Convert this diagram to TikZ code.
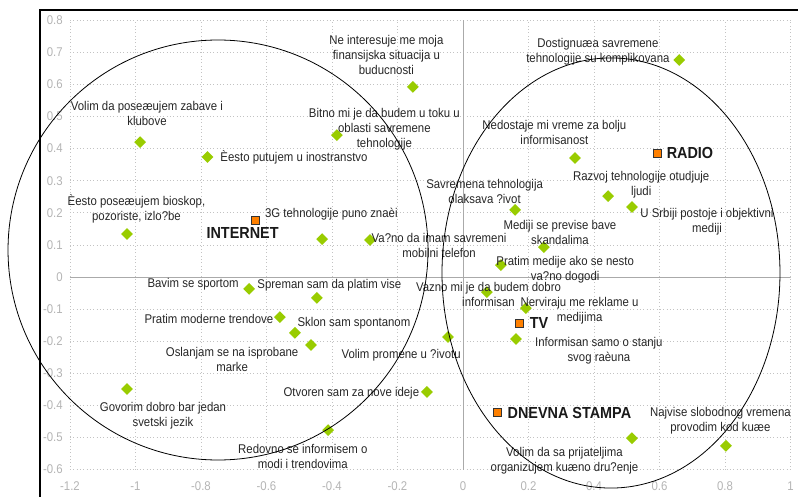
\documentclass[tikz,border=0pt]{standalone}
\usepackage{fontspec}
\setmainfont{Liberation Sans}[FakeStretch=0.9]
\usepackage{tikz}
\usetikzlibrary{shapes.geometric}
\definecolor{pointgreen}{RGB}{153,204,0}
\definecolor{mediaorange}{RGB}{255,128,0}
\definecolor{gridgrey}{RGB}{195,195,195}
\definecolor{axisgrey}{RGB}{170,170,170}
\definecolor{ticklabel}{RGB}{180,180,180}
\tikzset{
  item/.style={diamond, fill=pointgreen, inner sep=0pt, minimum width=9pt, minimum height=9pt},
  medium/.style={rectangle, fill=mediaorange, draw=black!80, line width=0.5pt, inner sep=0pt, minimum size=6pt},
  txt/.style={align=center, inner sep=0pt, text=black!85, font=\fontsize{9.5}{11.3}\selectfont},
  mediatxt/.style={inner sep=0pt, text=black!90, font=\fontsize{12}{14}\selectfont\bfseries},
  ticktxt/.style={inner sep=0pt, text=ticklabel, font=\fontsize{9.5}{10}\selectfont},
  gridline/.style={gridgrey, line width=0.5pt, dotted},
  group/.style={black, line width=0.6pt}
}

\begin{document}
\begin{tikzpicture}[x=245.625pt, y=240.75pt]
    %%%%% FRAME %%%%%
    \useasboundingbox (-1.41374,-0.68536) rectangle (1.02290,0.86293);
    \draw[black, line width=0.8pt] (-1.2916,-0.68536) -- (-1.2916,0.8318) -- (1.0229,0.8318);

    %%%%% GRID %%%%%
    \foreach \i in {-6,...,5}
        \draw[gridline] (\i/5,-0.6) -- (\i/5,0.8);
    \foreach \j in {-6,...,8}
        \draw[gridline] (-1.2,\j/10) -- (1,\j/10);
    \draw[axisgrey, line width=0.7pt] (0,-0.6) -- (0,0.8);
    \draw[axisgrey, line width=0.7pt] (-1.2,0) -- (1,0);

    \foreach \yv [count=\k] in {0.8,0.7,0.6,0.5,0.4,0.3,0.2,0.1,0,-0.1,-0.2,-0.3,-0.4,-0.5,-0.6}
        \node[ticktxt, anchor=east] (ytick\k) at (-1.2214,\yv) {\yv};
    \foreach \xv [count=\k] in {-1.2,-1,-0.8,-0.6,-0.4,-0.2,0,0.2,0.4,0.6,0.8,1}
        \node[ticktxt] (xtick\k) at (\xv,-0.651) {\xv};

    %%%%% STATEMENTS %%%%%
    \node[item] (zabave) at (-0.986, 0.420) {};
    \node[txt] (zabavetxt) at (-0.965, 0.508) {Volim da poseæujem zabave i\\klubove};
    \node[item] (putujem) at (-0.780, 0.374) {};
    \node[txt] (putujemtxt) at (-0.516, 0.374) {Èesto putujem u inostranstvo};
    \node[item] (finansije) at (-0.153, 0.592) {};
    \node[txt] (finansijetxt) at (-0.234, 0.692) {Ne interesuje me moja\\finansijska situacija u\\buducnosti};
    \node[item] (utoku) at (-0.385, 0.442) {};
    \node[txt] (utokutxt) at (-0.240, 0.461) {Bitno mi je da budem u toku u\\oblasti savremene\\tehnologije};
    \node[item] (bioskop) at (-1.026, 0.134) {};
    \node[txt] (bioskoptxt) at (-0.997, 0.212) {Èesto poseæujem bioskop,\\pozoriste, izlo?be};
    \node[item] (treceg) at (-0.430, 0.118) {};
    \node[txt] (trecegtxt) at (-0.402, 0.196) {3G tehnologije puno znaèi};
    \node[item] (mobilni) at (-0.284, 0.115) {};
    \node[txt] (mobilnitxt) at (-0.073, 0.097) {Va?no da imam savremeni\\mobilni telefon};
    \node[item] (sport) at (-0.653, -0.037) {};
    \node[txt] (sporttxt) at (-0.824, -0.022) {Bavim se sportom};
    \node[item] (platim) at (-0.446, -0.065) {};
    \node[txt] (platimtxt) at (-0.408, -0.025) {Spreman sam da platim vise};
    \node[item] (trendove) at (-0.559, -0.125) {};
    \node[txt] (trendovetxt) at (-0.776, -0.131) {Pratim moderne trendove};
    \node[item] (spontan) at (-0.513, -0.174) {};
    \node[txt] (spontantxt) at (-0.333, -0.143) {Sklon sam spontanom};
    \node[item] (marke) at (-0.464, -0.212) {};
    \node[txt] (marketxt) at (-0.705, -0.257) {Oslanjam se na isprobane\\marke};
    \node[item] (jezik) at (-1.026, -0.349) {};
    \node[txt] (jeziktxt) at (-0.916, -0.433) {Govorim dobro bar jedan\\svetski jezik};
    \node[item] (promene) at (-0.046, -0.187) {};
    \node[txt] (promenetxt) at (-0.189, -0.243) {Volim promene u ?ivotu};
    \node[item] (ideje) at (-0.110, -0.358) {};
    \node[txt] (idejetxt) at (-0.341, -0.361) {Otvoren sam za nove ideje};
    \node[item] (moda) at (-0.412, -0.477) {};
    \node[txt] (modatxt) at (-0.489, -0.559) {Redovno se informisem o\\modi i trendovima};
    \node[item] (dostignuca) at (0.660, 0.676) {};
    \node[txt] (dostignucatxt) at (0.412, 0.701) {Dostignuæa savremene\\tehnologije su komplikovana};
    \node[item] (vreme) at (0.342, 0.371) {};
    \node[txt] (vremetxt) at (0.279, 0.450) {Nedostaje mi vreme za bolju\\informisanost};
    \node[item] (olaksava) at (0.159, 0.209) {};
    \node[txt] (olaksavatxt) at (0.066, 0.266) {Savremena tehnologija\\olaksava ?ivot};
    \node[item] (otudjuje) at (0.443, 0.252) {};
    \node[txt] (otudjujetxt) at (0.544, 0.288) {Razvoj tehnologije otudjuje\\ljudi};
    \node[item] (objektivni) at (0.516, 0.218) {};
    \node[txt] (objektivnitxt) at (0.745, 0.171) {U Srbiji postoje i objektivni\\mediji};
    \node[item] (skandali) at (0.247, 0.093) {};
    \node[txt] (skandalitxt) at (0.296, 0.140) {Mediji se previse bave\\skandalima};
    \node[item] (dogodi) at (0.116, 0.037) {};
    \node[txt] (dogoditxt) at (0.312, 0.023) {Pratim medije ako se nesto\\va?no dogodi};
    \node[item] (informisan) at (0.073, -0.047) {};
    \node[txt] (informisantxt) at (0.078, -0.055) {Vazno mi je da budem dobro\\informisan};
    \node[item] (reklame) at (0.192, -0.097) {};
    \node[txt] (reklametxt) at (0.356, -0.106) {Nerviraju me reklame u\\medijima};
    \node[item] (racun) at (0.162, -0.193) {};
    \node[txt] (racuntxt) at (0.415, -0.229) {Informisan samo o stanju\\svog raèuna};
    \node[item] (druzenje) at (0.516, -0.502) {};
    \node[txt] (druzenjetxt) at (0.310, -0.573) {Volim da sa prijateljima\\organizujem kuæno dru?enje};
    \node[item] (kod) at (0.803, -0.526) {};
    \node[txt] (kodtxt) at (0.786, -0.449) {Najvise slobodnog vremena\\provodim kod kuæe};

    %%%%% MEDIA %%%%%
    \node[medium] (internet) at (-0.635, 0.178) {};
    \node[mediatxt] (internettxt) at (-0.673, 0.137) {INTERNET};
    \node[medium] (radio) at (0.592, 0.386) {};
    \node[mediatxt] (radiotxt) at (0.693, 0.386) {RADIO};
    \node[medium] (tv) at (0.171, -0.143) {};
    \node[mediatxt] (tvtxt) at (0.232, -0.143) {TV};
    \node[medium] (stampa) at (0.104, -0.421) {};
    \node[mediatxt] (stampatxt) at (0.325, -0.424) {DNEVNA STAMPA};

    %%%%% GROUPS %%%%%
    \draw[group] (-0.748, 0.0841) ellipse (0.6412 and 0.6542);
    \draw[group] (0.4519, 0.0125) ellipse (0.516 and 0.670);
\end{tikzpicture}
\end{document}
